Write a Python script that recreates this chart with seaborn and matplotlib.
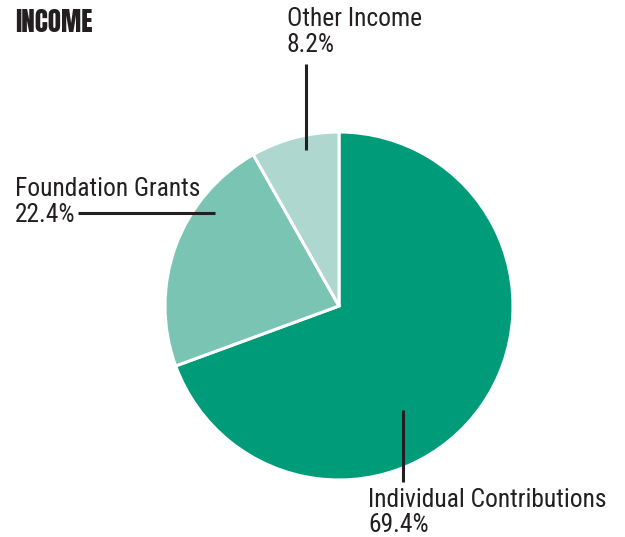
import matplotlib
matplotlib.use("Agg")
import matplotlib.pyplot as plt
import seaborn as sns

categories = ["Individual Contributions", "Foundation Grants", "Other Income"]
values = [69.4, 22.4, 8.2]
pct_labels = ["69.4%", "22.4%", "8.2%"]
colors = ["#009C7A", "#7AC4B3", "#AED8CF"]
title = "INCOME"

sns.set_theme(style="white")
body_font = ['Roboto Condensed', 'Archivo Narrow', 'Barlow Condensed', 'DejaVu Sans']
title_font = ['Anton', 'Oswald', 'Barlow Condensed', 'DejaVu Sans']
plt.rcParams['font.family'] = body_font

W, H = 625, 537
fig = plt.figure(figsize=(W / 100, H / 100), dpi=100)
ax = fig.add_axes([0, 0, 1, 1])

cx, cy, r = 339, H - 306, 174
ax.pie(values, colors=colors, startangle=90, counterclock=False,
       center=(cx, cy), radius=r, frame=True,
       wedgeprops=dict(edgecolor="white", linewidth=2.2))
ax.set_xlim(0, W)
ax.set_ylim(0, H)
ax.set_aspect('equal')
ax.axis('off')

renderer = fig.canvas.get_renderer()

def fit(t, target_w):
    fig.canvas.draw()
    w = t.get_window_extent(renderer).width
    t.set_fontsize(t.get_fontsize() * target_w / w)

txt = "#231F20"
fs = 17
t_title = ax.text(15, H - 32, title, fontsize=22, fontweight='heavy', color=txt,
                  va='baseline', ha='left', family=title_font)
fit(t_title, 77)

# Individual Contributions (used to fit body size)
t_ind = ax.text(368, H - 507, categories[0], fontsize=fs, color=txt, va='baseline', ha='left')
fit(t_ind, 239)
fs = t_ind.get_fontsize()
ax.text(368, H - 532, pct_labels[0], fontsize=fs, color=txt, va='baseline', ha='left')
ax.plot([403, 403], [H - 410, H - 482], color=txt, lw=2.2, solid_capstyle='butt')

# Other Income
ax.text(287, H - 26, categories[2], fontsize=fs, color=txt, va='baseline', ha='left')
ax.text(287, H - 52, pct_labels[2], fontsize=fs, color=txt, va='baseline', ha='left')
ax.plot([306, 306], [H - 64, H - 150], color=txt, lw=2.2, solid_capstyle='butt')

# Foundation Grants
ax.text(15, H - 196, categories[1], fontsize=fs, color=txt, va='baseline', ha='left')
ax.text(15, H - 222, pct_labels[1], fontsize=fs, color=txt, va='baseline', ha='left')
ax.plot([78, 215], [H - 213, H - 213], color=txt, lw=2.2, solid_capstyle='butt')

fig.savefig("out.png", dpi=100, facecolor="white")
